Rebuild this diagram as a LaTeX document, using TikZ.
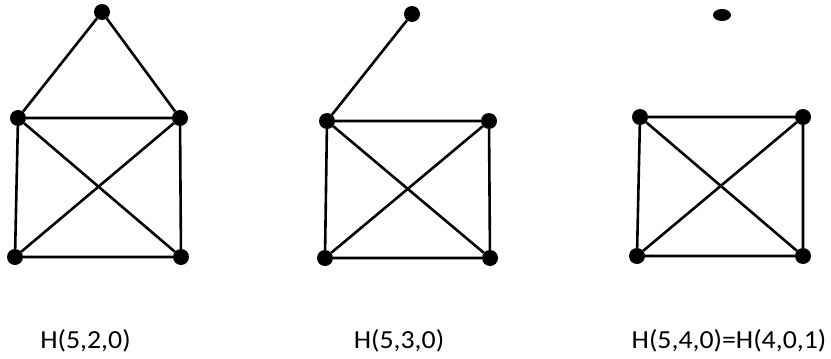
\documentclass[tikz,border=0pt]{standalone}
\usepackage{fontspec}
\setmainfont{Carlito}
\usetikzlibrary{shapes.geometric}
\begin{document}
\begin{tikzpicture}[x=1pt,y=-1pt,
  vtx/.style={circle,fill=black,inner sep=0pt,minimum size=16pt},
  vtxo/.style={ellipse,fill=black,inner sep=0pt,minimum width=18pt,minimum height=12pt},
  edge/.style={line width=2.6pt},
  lbl/.style={anchor=base,inner sep=0pt,font=\fontsize{26}{30}\selectfont}]
\useasboundingbox (0,0) rectangle (831,359);
% graph 1
\node[vtx] (a1) at (102,12) {};
\node[vtx] (b1) at (18,118) {};
\node[vtx] (c1) at (180,118) {};
\node[vtx] (d1) at (15,257) {};
\node[vtx] (e1) at (181,257) {};
\draw[edge] (a1)--(b1) (a1)--(c1) (b1)--(c1) (b1)--(d1) (c1)--(e1) (d1)--(e1) (b1)--(e1) (c1)--(d1);
% graph 2
\node[vtx] (a2) at (412,14) {};
\node[vtx] (b2) at (327,121) {};
\node[vtx] (c2) at (489,121) {};
\node[vtx] (d2) at (325,258) {};
\node[vtx] (e2) at (490,258) {};
\draw[edge] (a2)--(b2) (b2)--(c2) (b2)--(d2) (c2)--(e2) (d2)--(e2) (b2)--(e2) (c2)--(d2);
% graph 3
\node[vtxo] (a3) at (722,15) {};
\node[vtx] (b3) at (640,117) {};
\node[vtx] (c3) at (803,117) {};
\node[vtx] (d3) at (637,256) {};
\node[vtx] (e3) at (803,256) {};
\draw[edge] (b3)--(c3) (b3)--(d3) (c3)--(e3) (d3)--(e3) (b3)--(e3) (c3)--(d3);
% labels
\node[lbl] (l1) at (85.5,348) {\scalebox{1.07}[1]{H(5,2,0)}};
\node[lbl] (l2) at (399,348) {\scalebox{1.07}[1]{H(5,3,0)}};
\node[lbl] (l3) at (729,348) {\scalebox{1.07}[1]{H(5,4,0)=H(4,0,1)}};
\end{tikzpicture}
\end{document}
